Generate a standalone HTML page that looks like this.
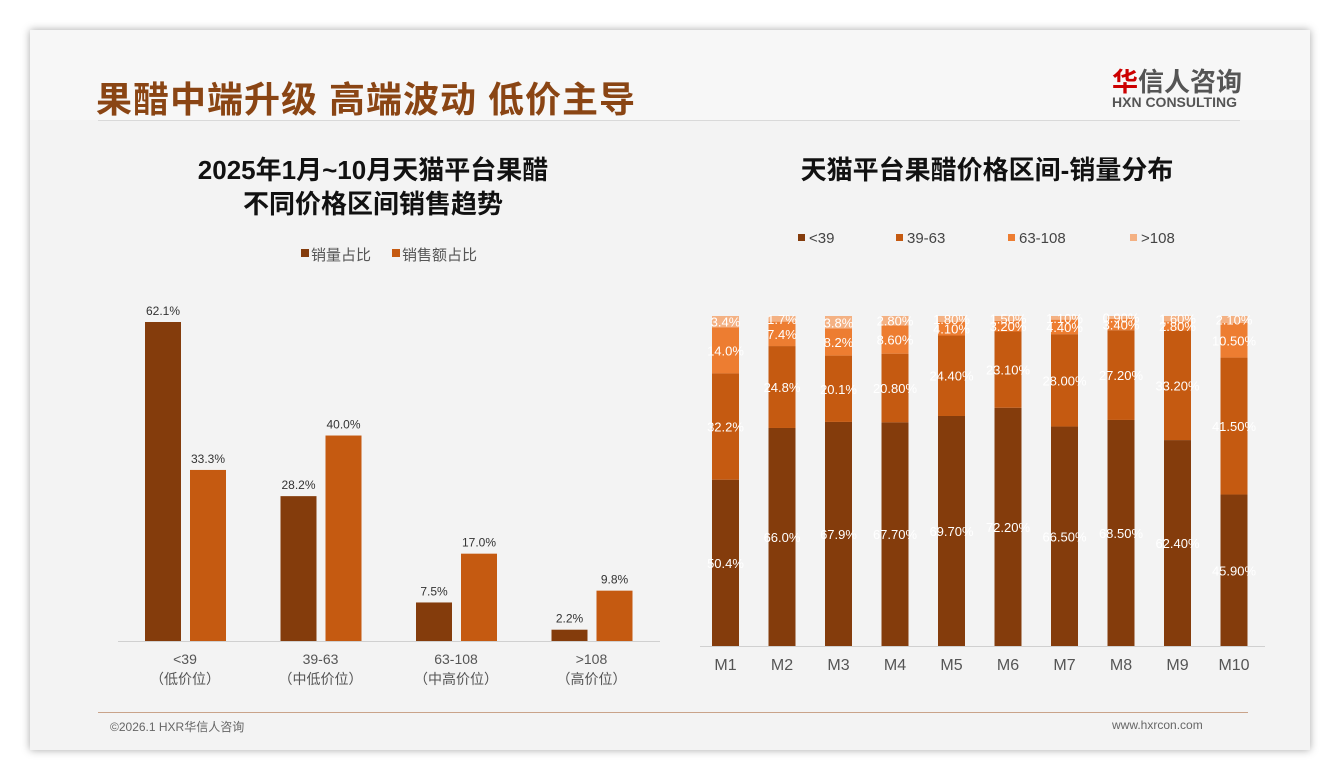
<!DOCTYPE html>
<html><head><meta charset="utf-8"><style>
body{margin:0;width:1340px;height:780px;background:#fff;font-family:"Liberation Sans","Noto Sans CJK SC",sans-serif;position:relative;overflow:hidden}
.card{position:absolute;left:30px;top:30px;width:1280px;height:720px;background:#f3f3f3;box-shadow:0 0 8px rgba(0,0,0,.35)}
.hdr{position:absolute;left:0;top:0;width:1280px;height:90px;background:#f7f7f7}
.abs{position:absolute}
</style></head><body>
<div class="card">
<div class="hdr"></div>
<div class="abs" style="left:66px;top:41px;font-size:36px;font-weight:bold;color:#8a4514;letter-spacing:1px">果醋中端升级 高端波动 低价主导</div>
<div class="abs" style="left:68px;top:90px;width:1142px;height:1px;background:#d9d9d9"></div>
<div class="abs" style="left:1082px;top:32px;font-size:26px;font-weight:bold;color:#555"><span style="color:#c00">华</span>信人咨询</div>
<div class="abs" style="left:1082px;top:64px;font-size:14px;font-weight:bold;color:#555">HXN CONSULTING</div>
<div class="abs" style="left:68px;top:682px;width:1150px;height:1px;background:#c9a38a"></div>
<div class="abs" style="left:80px;top:688px;font-size:12px;color:#666">©2026.1 HXR华信人咨询</div>
<div class="abs" style="left:1082px;top:688px;font-size:12px;color:#666">www.hxrcon.com</div>
</div>
<svg id="c" width="1340" height="780" style="position:absolute;left:0;top:0"></svg>
<script>
const leftCats=['<39','39-63','63-108','>108'];
const leftSub=['（低价位）','（中低价位）','（中高价位）','（高价位）'];
const volShare=[62.1,28.2,7.5,2.2];
const salesShare=[33.3,40.0,17.0,9.8];
const months=['M1','M2','M3','M4','M5','M6','M7','M8','M9','M10'];
const sLow=[50.4,66.0,67.9,67.7,69.7,72.2,66.5,68.5,62.4,45.9];
const sMid=[32.2,24.8,20.1,20.8,24.4,23.1,28.0,27.2,33.2,41.5];
const sHigh=[14.0,7.4,8.2,8.6,4.1,3.2,4.4,3.4,2.8,10.5];
const sTop=[3.4,1.7,3.8,2.8,1.8,1.5,1.1,0.9,1.6,2.1];
const seriesNames=['<39','39-63','63-108','>108'];
const labelDec=[1,1,1,2,2,2,2,2,2,2];
const C=['#843c0c','#c55a11','#ed7d31','#f4b183'];
const svg=document.getElementById('c');const NS='http://www.w3.org/2000/svg';
function mk(t,a,txt,name,inter){const e=document.createElementNS(NS,t);for(const k in a)e.setAttribute(k,a[k]);if(txt!==undefined)e.textContent=txt;


svg.appendChild(e);return e;}
const F='Liberation Sans, Noto Sans CJK SC, sans-serif';
mk('text',{x:373,y:179,'text-anchor':'middle','font-size':26,'font-weight':'bold','font-family':F,fill:'#111'},'2025年1月~10月天猫平台果醋','left-chart-title-1');
mk('text',{x:373,y:213,'text-anchor':'middle','font-size':26,'font-weight':'bold','font-family':F,fill:'#111'},'不同价格区间销售趋势','left-chart-title-2');
mk('rect',{x:301,y:249,width:8,height:8,fill:C[0]},undefined,'legend-swatch-volume');
mk('text',{x:311,y:260,'font-size':15,'font-family':F,fill:'#555'},'销量占比','legend-volume',true);
mk('rect',{x:392,y:249,width:8,height:8,fill:C[1]},undefined,'legend-swatch-sales');
mk('text',{x:402,y:260,'font-size':15,'font-family':F,fill:'#555'},'销售额占比','legend-sales',true);
const lBase=641,lScale=319/62.1;const ly=v=>lBase-v*lScale;const lx=i=>145+i*135.5;
mk('line',{x1:118,x2:660,y1:lBase+0.5,y2:lBase+0.5,stroke:'#d0d0d0'},undefined,'left-x-axis');
leftCats.forEach((c,i)=>{
 const x=lx(i);
 mk('rect',{x:x,y:ly(volShare[i]),width:36,height:volShare[i]*lScale,fill:C[0]},undefined,'bar-volume-'+i,true);
 mk('rect',{x:x+45,y:ly(salesShare[i]),width:36,height:salesShare[i]*lScale,fill:C[1]},undefined,'bar-sales-'+i,true);
 mk('text',{x:x+18,y:ly(volShare[i])-7,'text-anchor':'middle','font-size':12,'font-family':F,fill:'#333'},volShare[i].toFixed(1)+'%','label-volume-'+i);
 mk('text',{x:x+63,y:ly(salesShare[i])-7,'text-anchor':'middle','font-size':12,'font-family':F,fill:'#333'},salesShare[i].toFixed(1)+'%','label-sales-'+i);
 mk('text',{x:x+40,y:664,'text-anchor':'middle','font-size':14,'font-family':F,fill:'#555'},c,'x-label-'+i);
 mk('text',{x:x+40,y:684,'text-anchor':'middle','font-size':14,'font-family':F,fill:'#555'},leftSub[i],'x-sublabel-'+i);
});
mk('text',{x:987,y:179,'text-anchor':'middle','font-size':26,'font-weight':'bold','font-family':F,fill:'#111'},'天猫平台果醋价格区间-销量分布','right-chart-title');
const lgx=[798,896,1008,1130];
seriesNames.forEach((n,k)=>{
 mk('rect',{x:lgx[k],y:234,width:7,height:7,fill:C[k]},undefined,'legend-swatch-'+k);
 mk('text',{x:lgx[k]+11,y:243,'font-size':15,'font-family':F,fill:'#444'},n,'legend-'+n,true);
});
const rBase=646,rH=330;const rx=i=>712+i*56.5;
mk('line',{x1:700,x2:1265,y1:rBase+0.5,y2:rBase+0.5,stroke:'#d0d0d0'},undefined,'right-x-axis');
const S=[sLow,sMid,sHigh,sTop];
months.forEach((m,i)=>{
 let acc=0;const tot=sLow[i]+sMid[i]+sHigh[i]+sTop[i];
 S.forEach((s,k)=>{
  const h=s[i]/tot*rH;const y=rBase-acc-h;
  mk('rect',{x:rx(i),y:y,width:27,height:h,fill:C[k]},undefined,'bar-'+m+'-'+seriesNames[k],true);
  mk('text',{x:rx(i)+13.5,y:y+h/2+5,'text-anchor':'middle','font-size':13,'font-family':F,fill:'#fff'},s[i].toFixed(labelDec[i])+'%','value-'+m+'-'+seriesNames[k]);
  acc+=h;
 });
 mk('text',{x:rx(i)+13.5,y:670,'text-anchor':'middle','font-size':16,'font-family':F,fill:'#555'},m,'x-label-'+m);
});
</script>
</body></html>
